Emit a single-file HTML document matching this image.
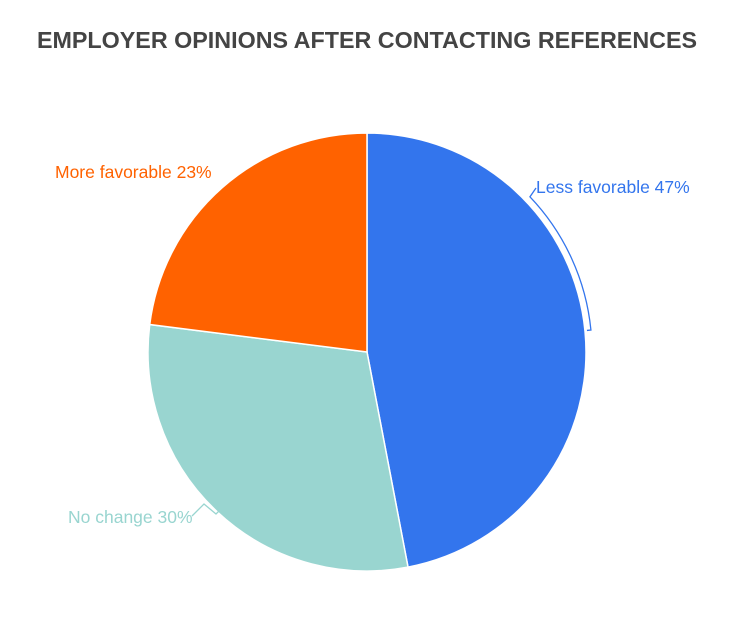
<!DOCTYPE html>
<html><head><meta charset="utf-8"><style>
body{margin:0;background:#fff;width:735px;height:621px;overflow:hidden;font-family:"Liberation Sans",sans-serif}
</style></head><body>
<svg width="735" height="621">
<text x="367" y="48" text-anchor="middle" font-size="23.3" font-weight="bold" fill="#444">EMPLOYER OPINIONS AFTER CONTACTING REFERENCES</text>
<g id="slices"></g>
<g id="labels"></g>
</svg>
<script>
const categories=["Less favorable","No change","More favorable"];
const values=[47,30,23];
const colors=["#3375ed","#99d5d0","#ff6200"];
const cx=367,cy=352,r=219;
const ns="http://www.w3.org/2000/svg";
function pt(a,rad){return [cx+rad*Math.sin(a),cy-rad*Math.cos(a)];}
const total=values.reduce((a,b)=>a+b,0);
let a0=0;
const sg=document.getElementById('slices'),lg=document.getElementById('labels');
values.forEach((v,i)=>{
  const a1=a0+v/total*2*Math.PI;
  const p0=pt(a0,r),p1=pt(a1,r);
  const p=document.createElementNS(ns,'path');
  p.setAttribute('d',`M${cx},${cy}L${p0[0]},${p0[1]}A${r},${r} 0 ${a1-a0>Math.PI?1:0} 1 ${p1[0]},${p1[1]}Z`);
  p.setAttribute('fill',colors[i]);p.setAttribute('stroke','#fff');p.setAttribute('stroke-width','1.5');
  
  
  sg.appendChild(p);
  a0=a1;
});
const labelPos=[[536,193,'start'],[68,523,'start'],[55,178,'start']];
values.forEach((v,i)=>{
  const t=document.createElementNS(ns,'text');
  t.setAttribute('x',labelPos[i][0]);t.setAttribute('y',labelPos[i][1]);
  t.setAttribute('font-size','17.5');t.setAttribute('fill',colors[i]);
  t.textContent=categories[i]+' '+v+'%';
  
  
  lg.appendChild(t);
});
const R=225,b0=46.4*Math.PI/180,b1=84.4*Math.PI/180;
const q0=pt(b0,R),q1=pt(b1,R),q0i=pt(b0,r+2),q1i=pt(b1,r+2);
const l1=document.createElementNS(ns,'path');
l1.setAttribute('d',`M536,188L${q0[0]},${q0[1]}A${R},${R} 0 0 1 ${q1[0]},${q1[1]}L${q1i[0]},${q1i[1]}`);
l1.setAttribute('fill','none');l1.setAttribute('stroke',colors[0]);l1.setAttribute('stroke-width','1.3');


lg.appendChild(l1);
const l2=document.createElementNS(ns,'path');
l2.setAttribute('d','M192,516L204,504L216,514L220,510');
l2.setAttribute('fill','none');l2.setAttribute('stroke',colors[1]);l2.setAttribute('stroke-width','1.3');


lg.appendChild(l2);
</script>
</body></html>
